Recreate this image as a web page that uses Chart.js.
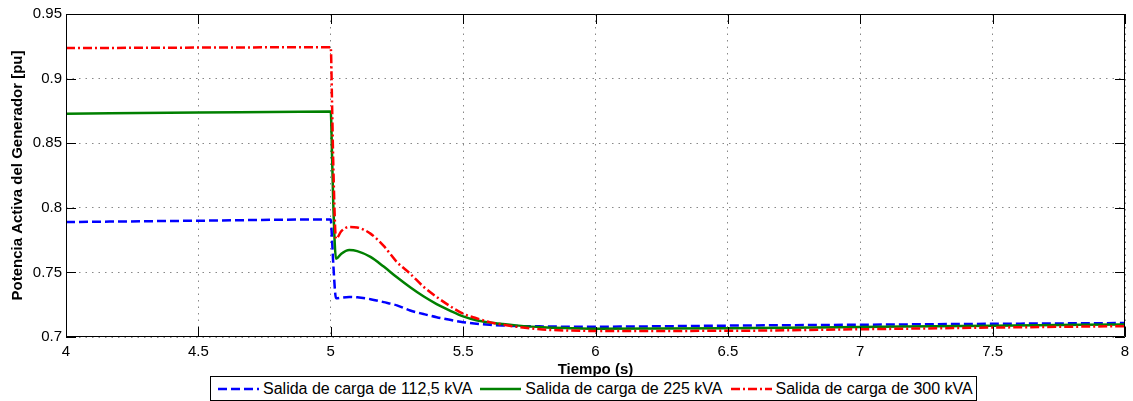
<!DOCTYPE html>
<html>
<head>
<meta charset="utf-8">
<script src="https://cdn.jsdelivr.net/npm/chart.js@4.4.1/dist/chart.umd.min.js"></script>
<style>
    body { margin: 0; background: #fff; }
    #wrap { position: relative; width: 1133px; height: 401px; }
    #legend {
        position: absolute; left: 210px; top: 376px; width: 765px; height: 23px;
        border: 1px solid #000; background: #fff; box-sizing: content-box;
        font-family: Arial, "Liberation Sans", sans-serif; font-size: 16px;
        display: flex; align-items: center; white-space: nowrap;
    }
    #legend .item { display: flex; align-items: center; margin-left: 7px; }
    #legend .item + .item { margin-left: 8px; }
    #legend svg { margin-right: 4px; }
</style>
</head>
<body>
<div id="wrap">
    <canvas id="myChart" width="1133" height="401"></canvas>
    <div id="legend"></div>
</div>
<script>
// Data waktu (s)
const tiempo = [4, 4.5, 5, 5.005, 5.01, 5.02, 5.04, 5.07, 5.1, 5.15, 5.2, 5.25, 5.3, 5.35, 5.4,
    5.45, 5.5, 5.55, 5.6, 5.65, 5.7, 5.8, 5.9, 6, 6.5, 7, 7.5, 8];

const carga112 = [0.789, 0.790, 0.791, 0.775, 0.755, 0.730, 0.7305, 0.731, 0.7307, 0.7293, 0.727,
    0.7245, 0.7205, 0.7178, 0.7153, 0.7133, 0.7115, 0.7103, 0.7095, 0.7089, 0.7085, 0.7082, 0.708,
    0.708, 0.7088, 0.7095, 0.7102, 0.7108];

const carga225 = [0.8728, 0.8737, 0.8745, 0.84, 0.80, 0.7605, 0.7645, 0.7673, 0.7665, 0.762, 0.7545,
    0.7462, 0.7385, 0.7315, 0.7255, 0.7205, 0.716, 0.713, 0.7112, 0.71, 0.709, 0.7075, 0.7068,
    0.7064, 0.7068, 0.7078, 0.7088, 0.7097];

const carga300 = [0.9236, 0.924, 0.9243, 0.88, 0.83, 0.776, 0.782, 0.7852, 0.7848, 0.780, 0.7705,
    0.758, 0.749, 0.739, 0.731, 0.724, 0.718, 0.7145, 0.7115, 0.7095, 0.708, 0.7058, 0.705,
    0.7047, 0.7048, 0.706, 0.7073, 0.7084];

const xTicks = [4, 4.5, 5, 5.5, 6, 6.5, 7, 7.5, 8];
const yTicks = [0.7, 0.75, 0.8, 0.85, 0.9, 0.95];

const series = [
    { label: 'Salida de carga de 112,5 kVA', data: carga112, color: '#0000ff', dash: [9, 4], order: 3 },
    { label: 'Salida de carga de 225 kVA', data: carga225, color: '#008000', dash: [], order: 2 },
    { label: 'Salida de carga de 300 kVA', data: carga300, color: '#ff0000', dash: [9, 3, 2, 3], order: 1 }
];

const FONT = 'Arial, "Liberation Sans", sans-serif';
const fmt = v => String(Math.round(v * 100) / 100);

// Kotak sumbu + tick ke dalam ala MATLAB
const boxPlugin = {
    id: 'boxPlugin',
    afterDraw(chart) {
        const { ctx, chartArea: a, scales } = chart;
        ctx.save();
        ctx.strokeStyle = '#000';
        ctx.lineWidth = 1;
        ctx.beginPath();
        ctx.rect(a.left + 0.5, a.top + 0.5, a.right - a.left - 1, a.bottom - a.top - 1);
        const len = 10;
        xTicks.forEach(t => {
            const px = Math.round(scales.x.getPixelForValue(t)) + 0.5;
            ctx.moveTo(px, a.bottom); ctx.lineTo(px, a.bottom - len);
            ctx.moveTo(px, a.top); ctx.lineTo(px, a.top + len);
        });
        yTicks.forEach(t => {
            const py = Math.round(scales.y.getPixelForValue(t)) + 0.5;
            ctx.moveTo(a.left, py); ctx.lineTo(a.left + len, py);
            ctx.moveTo(a.right, py); ctx.lineTo(a.right - len, py);
        });
        ctx.stroke();
        ctx.restore();
    }
};

const ctx = document.getElementById('myChart').getContext('2d');
const myChart = new Chart(ctx, {
    type: 'line',
    data: {
        datasets: series.map(s => ({
            label: s.label,
            data: tiempo.map((t, i) => ({ x: t, y: s.data[i] })),
            borderColor: s.color,
            borderDash: s.dash,
            borderWidth: 2.5,
            pointRadius: 0,
            fill: false,
            cubicInterpolationMode: 'monotone',
            order: s.order
        }))
    },
    options: {
        responsive: false,
        animation: false,
        layout: { padding: { left: 0, top: 14, right: 8, bottom: 22 } },
        plugins: { legend: { display: false }, tooltip: { enabled: false } },
        scales: {
            x: {
                type: 'linear', min: 4, max: 8,
                afterBuildTicks(scale) { scale.ticks = xTicks.map(v => ({ value: v })); },
                afterFit(scale) {
                    scale.height = 42;
                    scale.paddingLeft = 0;
                    scale.paddingRight = 0;
                },
                grid: { color: '#888', lineWidth: 1, drawTicks: false },
                border: { display: false, dash: [1.5, 5] },
                ticks: { color: '#000', padding: 6, maxRotation: 0, callback: fmt,
                    font: { family: FONT, size: 15 } },
                title: { display: true, text: 'Tiempo (s)', color: '#000', padding: 0,
                    font: { family: FONT, size: 15, weight: 'bold' } }
            },
            y: {
                min: 0.7, max: 0.95,
                afterBuildTicks(scale) { scale.ticks = yTicks.map(v => ({ value: v })); },
                afterFit(scale) { scale.width = 66; },
                grid: { color: '#888', lineWidth: 1, drawTicks: false },
                border: { display: false, dash: [1.5, 5] },
                ticks: { color: '#000', padding: 4, callback: fmt, font: { family: FONT, size: 15 } },
                title: { display: true, text: 'Potencia Activa del Generador [pu]', color: '#000',
                    padding: { top: 9, bottom: 0 },
                    font: { family: FONT, size: 15, weight: 'bold' } }
            }
        }
    },
    plugins: [boxPlugin]
});

// Legenda HTML dengan contoh garis
const legend = document.getElementById('legend');
series.forEach(s => {
    const item = document.createElement('div');
    item.className = 'item';
    const dash = s.dash.length ? `stroke-dasharray="${s.dash.join(' ')}"` : '';
    item.innerHTML = `<svg width="41" height="6"><line x1="0" y1="3" x2="41" y2="3" stroke="${s.color}" stroke-width="2.5" ${dash}/></svg><span>${s.label}</span>`;
    legend.appendChild(item);
});
</script>
</body>
</html>
